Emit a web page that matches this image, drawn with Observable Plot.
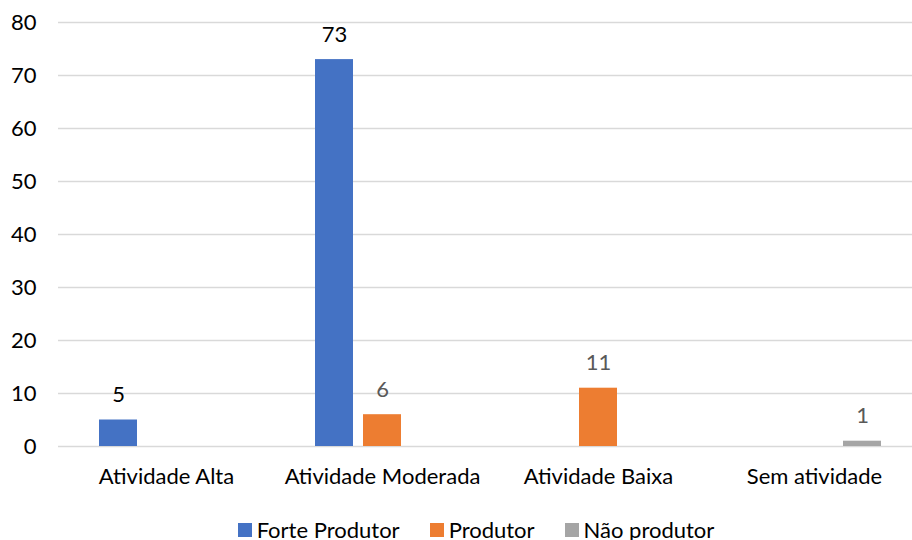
<!DOCTYPE html>
<html>
<head>
<meta charset="utf-8">
<script src="https://cdn.jsdelivr.net/npm/d3@7"></script>
<script src="https://cdn.jsdelivr.net/npm/@observablehq/plot@0.6"></script>
<style>
  html, body { margin: 0; padding: 0; background: #fff; }
  body { width: 912px; height: 540px; overflow: hidden; font-family: Lato, "Open Sans", sans-serif; }
  #chart svg { display: block; }
  #legend { display: flex; justify-content: center; gap: 30px; font-size: 22px; line-height: 26px; color: #000; padding-left: 40px; margin-top: 21px; }
  #legend span.item { display: flex; align-items: center; gap: 5px; }
  #legend span.sw { width: 14px; height: 14px; display: inline-block; }
</style>
</head>
<body>
<div id="chart"></div>
<div id="legend"></div>
<script>
// Activity levels (groups) and producer classes (bars inside each group)
const categories = ["Atividade Alta", "Atividade Moderada", "Atividade Baixa", "Sem atividade"];
const series = ["Forte Produtor", "Produtor", "Não produtor"];
const colors = ["#4472C4", "#ED7D31", "#A5A5A5"];
const labelColors = ["#000000", "#595959", "#595959"];
const yTicks = [0, 10, 20, 30, 40, 50, 60, 70, 80];

// Counts per category; null where a class has no bar
const forteProdutor = [5, 73, null, null];
const produtor = [null, 6, 11, null];
const naoProdutor = [null, null, null, 1];

const seriesValues = [forteProdutor, produtor, naoProdutor];
const rows = [];
categories.forEach((c, i) => {
  series.forEach((s, j) => {
    const v = seriesValues[j][i];
    if (v != null) rows.push({category: c, series: s, value: v, labelColor: labelColors[j]});
  });
});

const font = "Lato, 'Open Sans', sans-serif";

const chart = Plot.plot({
  width: 912,
  height: 496,
  marginLeft: 57,
  marginRight: 0,
  marginTop: 22,
  marginBottom: 50,
  style: {fontFamily: font, fontSize: "22px", color: "#000", background: "#fff"},
  // the last group runs past the right edge of the drawing
  fx: {domain: categories, padding: 0, range: [57.5, 923], label: null, tickSize: 0, tickPadding: 22},
  x: {domain: series, paddingInner: 0.216, paddingOuter: 0.84, axis: null},
  y: {domain: [0, 80], ticks: yTicks, label: null, tickSize: 0, tickPadding: 22},
  color: {domain: series, range: colors},
  marks: [
    Plot.gridY(yTicks, {stroke: "#d9d9d9", strokeOpacity: 1, strokeWidth: 1.5}),
    Plot.barY(rows, {fx: "category", x: "series", y: "value", fill: "series"}),
    Plot.text(rows, {fx: "category", x: "series", y: "value", text: d => String(d.value),
      fill: "labelColor", dy: -25, fontSize: 22})
  ]
});
document.getElementById("chart").appendChild(chart);

const legend = document.getElementById("legend");
series.forEach((s, i) => {
  const item = document.createElement("span");
  item.className = "item";
  const sw = document.createElement("span");
  sw.className = "sw";
  sw.style.background = colors[i];
  item.appendChild(sw);
  item.appendChild(document.createTextNode(s));
  legend.appendChild(item);
});
</script>
</body>
</html>
